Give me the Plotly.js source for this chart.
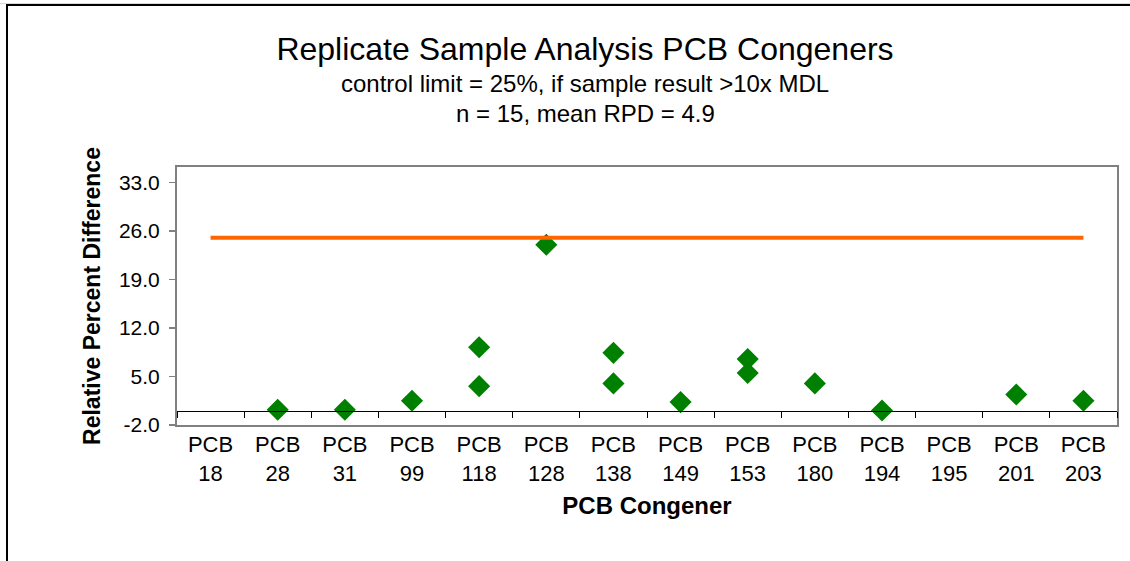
<!DOCTYPE html>
<html>
<head>
<meta charset="utf-8">
<script src="https://cdn.plot.ly/plotly-3.0.1.min.js"></script>
<style>
  html, body { margin: 0; padding: 0; background: #fff; }
  #wrap { position: relative; width: 1130px; height: 561px; overflow: hidden; }
  #chart { position: absolute; left: 0; top: 0; width: 1130px; height: 561px; }
  #frameTop { position: absolute; left: 0; top: 3px; width: 1130px; height: 1px; background: #d8d8d8; pointer-events: none; }
  #frame { position: absolute; left: 6px; top: 4px; width: 1130px; height: 570px; border-left: 2px solid #000; border-top: 2px solid #000; pointer-events: none; }
</style>
</head>
<body>
<div id="wrap">
  <div id="chart"></div>
  <div id="frameTop"></div>
  <div id="frame"></div>
</div>
<script>
// ---- data ----
const congeners = ['18', '28', '31', '99', '118', '128', '138', '149', '153', '180', '194', '195', '201', '203'];
const categoryLabels = congeners.map(c => 'PCB<br>' + c);

const sampleCongeners = ['28', '31', '99', '118', '118', '128', '138', '138', '149', '153', '153', '180', '194', '201', '203'];
const rpdValues       = [0.2,  0.2,  1.5,  9.2,   3.6,   24.0,  8.4,   4.0,   1.3,   7.5,   5.5,   4.0,   0.1,   2.4,   1.5];

const controlLimit = 25;
const yTicks = [-2, 5, 12, 19, 26, 33];
const yRange = [-2, 35.2];

const titleText = 'Replicate Sample Analysis PCB Congeners';
const subtitle1 = 'control limit = 25%, if sample result >10x MDL';
const subtitle2 = 'n = 15, mean RPD = 4.9';

// ---- traces ----
const limitTrace = {
  type: 'scatter', mode: 'lines',
  x: [categoryLabels[0], categoryLabels[categoryLabels.length - 1]],
  y: [controlLimit, controlLimit],
  xaxis: 'x2', yaxis: 'y',
  line: { color: '#FF6600', width: 4 },
  hoverinfo: 'skip', showlegend: false
};

const pointTrace = {
  type: 'scatter', mode: 'markers',
  x: sampleCongeners.map(c => 'PCB<br>' + c),
  y: rpdValues,
  xaxis: 'x', yaxis: 'y',
  marker: { symbol: 'diamond', size: 17, color: '#008000', line: { width: 0 } },
  showlegend: false
};

const font = 'Liberation Sans, Arial, sans-serif';
const zeroPos = (0 - yRange[0]) / (yRange[1] - yRange[0]);

const layout = {
  width: 1130, height: 561,
  paper_bgcolor: '#ffffff', plot_bgcolor: '#ffffff',
  margin: { l: 177, r: 13, t: 167, b: 136 },
  font: { family: font, color: '#000' },
  showlegend: false,
  title: {
    text: titleText,
    font: { family: font, size: 32, color: '#000' },
    xref: 'container', x: 585 / 1130, xanchor: 'center',
    yref: 'container', y: 1 - 49 / 561, yanchor: 'middle'
  },
  annotations: [
    { text: subtitle1, xref: 'paper', yref: 'paper', x: (585 - 177) / 940, y: (425 - 83) / 258,
      xanchor: 'center', yanchor: 'middle', showarrow: false, font: { family: font, size: 24, color: '#000' } },
    { text: subtitle2, xref: 'paper', yref: 'paper', x: (585 - 177) / 940, y: (425 - 113) / 258,
      xanchor: 'center', yanchor: 'middle', showarrow: false, font: { family: font, size: 24, color: '#000' } }
  ],
  xaxis: {
    type: 'category', categoryorder: 'array', categoryarray: categoryLabels,
    tickvals: categoryLabels, ticktext: categoryLabels,
    range: [-0.5, categoryLabels.length - 0.5],
    showline: true, linecolor: '#808080', linewidth: 2, mirror: true,
    showgrid: false, zeroline: false, ticks: '',
    ticklabelstandoff: -1,
    tickfont: { family: font, size: 22, color: '#000' },
    title: { text: 'PCB Congener', font: { family: font, size: 24, color: '#000', weight: 'bold' }, standoff: 12 },
    fixedrange: true
  },
  xaxis2: {
    type: 'category', categoryorder: 'array', categoryarray: categoryLabels,
    tickvals: categoryLabels,
    range: [-0.5, categoryLabels.length - 0.5],
    overlaying: 'x', anchor: 'free', position: zeroPos, side: 'bottom',
    showline: true, linecolor: '#000', linewidth: 1,
    ticks: 'outside', tickson: 'boundaries', ticklen: 6, tickcolor: '#000', tickwidth: 1,
    showticklabels: false, showgrid: false, zeroline: false, fixedrange: true
  },
  yaxis: {
    range: yRange, tickmode: 'array', tickvals: yTicks, ticktext: yTicks.map(v => v.toFixed(1)),
    showline: true, linecolor: '#808080', linewidth: 2, mirror: true,
    ticks: 'outside', ticklen: 6, tickcolor: '#808080', tickwidth: 1.5,
    ticklabelstandoff: 5,
    showgrid: false, zeroline: false,
    tickfont: { family: font, size: 21, color: '#000' },
    title: { text: 'Relative Percent Difference', font: { family: font, size: 23, color: '#000', weight: 'bold' }, standoff: 12 },
    fixedrange: true
  }
};

Plotly.newPlot('chart', [limitTrace, pointTrace], layout, { displayModeBar: false, staticPlot: true });
</script>
</body>
</html>
